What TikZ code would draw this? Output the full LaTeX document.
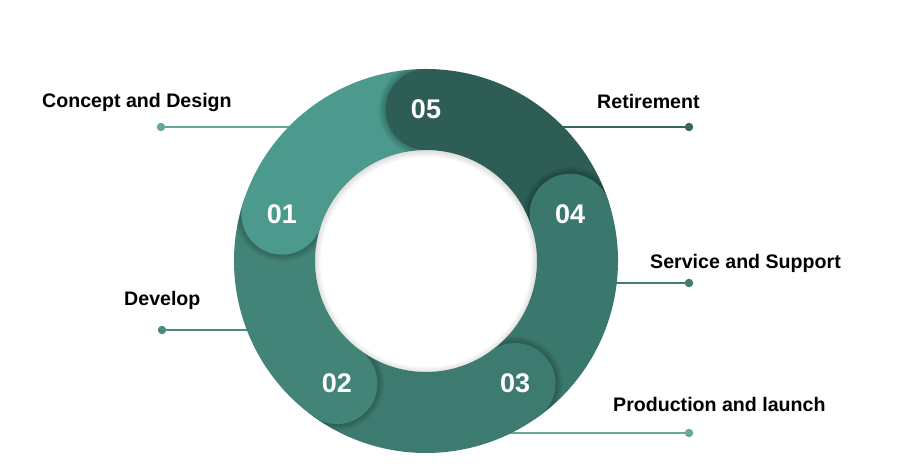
\documentclass[tikz,border=0pt]{standalone}
\usepackage{fontspec}
\setmainfont{Liberation Sans}
\usetikzlibrary{calc}
\definecolor{cA}{HTML}{4B9A8D}
\definecolor{cB}{HTML}{428578}
\definecolor{cC}{HTML}{3D7B71}
\definecolor{cD}{HTML}{3A776D}
\definecolor{cE}{HTML}{2D5D55}
\definecolor{lnA}{HTML}{62A99C}
\definecolor{lnE}{HTML}{39675F}
\definecolor{lnB}{HTML}{4A8A7F}
\definecolor{lnD}{HTML}{417C72}
\definecolor{lnC}{HTML}{6AA79D}
\begin{document}
\begin{tikzpicture}[x=1pt,y=1pt,
  lbl/.style={anchor=base west, inner sep=0pt, font=\fontsize{19.6}{19.6}\selectfont\bfseries, text=black},
  num/.style={inner sep=0pt, font=\fontsize{27}{27}\selectfont\bfseries, text=white},
  dotnode/.style={circle, inner sep=0pt, minimum size=8.5pt, fill=#1},
  lead/.style={line width=2pt, draw=#1}]
\useasboundingbox (0,0) rectangle (921,473);
\fill[white] (0,0) rectangle (921,473);
\coordinate (C) at (426,212);

% leader lines and dots (behind the ring)
\node[dotnode=lnA] (d1) at (161,346) {};
\coordinate (e1) at (310,346);
\draw[lead=lnA] (d1) -- (e1);
\node[dotnode=lnE] (d5) at (689,346) {};
\coordinate (e5) at (545,346);
\draw[lead=lnE] (d5) -- (e5);
\node[dotnode=lnB] (d2) at (162,143) {};
\coordinate (e2) at (270,143);
\draw[lead=lnB] (d2) -- (e2);
\node[dotnode=lnD] (d4) at (689,190) {};
\coordinate (e4) at (590,190);
\draw[lead=lnD] (d4) -- (e4);
\node[dotnode=lnC] (d3) at (689,40) {};
\coordinate (e3) at (490,40);
\draw[lead=lnC] (d3) -- (e3);

% ring segments
\foreach \a/\col in {90/cE,162/cA,234/cB,306/cC,18/cD}{
  \pgfmathsetmacro\b{\a-72}
  \fill[\col, shift={(C)}] (\a:192) arc[start angle=\a, end angle=\b, radius=192]
    -- (\b:111) arc[start angle=\b, end angle=\a, radius=111] -- cycle;
}

% inner soft shadow
\begin{scope}
  \clip (C) circle[radius=111];
  \foreach \k in {1,...,6}
    \draw[black, opacity=0.018, line width=2*\k] ($(C)+(0,-1)$) circle[radius=111];
\end{scope}

% caps with shadows
\foreach \a/\col in {90/cE,162/cA,234/cB,306/cC,18/cD}{
  \begin{scope}[even odd rule]
    \clip (C) circle[radius=192] (C) circle[radius=111];
    \begin{scope}[shift={(C)}, rotate=\a]
      \clip (-300,0) rectangle (300,300);
      \foreach \k in {1,...,7}
        \fill[black, opacity=0.03] (151.5,0) circle[radius=40.5+\k];
    \end{scope}
  \end{scope}
  \begin{scope}[shift={(C)}, rotate=\a]
    \fill[\col] (151.5,0) circle[radius=40.5];
  \end{scope}
}

% numbers
\node[num] (n5) at ($(C)+(90:151.5)$) {05};
\node[num] (n1) at ($(C)+(162:151.5)$) {01};
\node[num] (n2) at ($(C)+(234:151.5)$) {02};
\node[num] (n3) at ($(C)+(306:151.5)$) {03};
\node[num] (n4) at ($(C)+(18:151.5)$) {04};

% labels
\node[lbl] (t1) at (42,365) {Concept and Design};
\node[lbl] (t5) at (597,364) {Retirement};
\node[lbl] (t2) at (124,167) {Develop};
\node[lbl] (t4) at (650,204) {Service and Support};
\node[lbl] (t3) at (613,61) {Production and launch};
\end{tikzpicture}
\end{document}
